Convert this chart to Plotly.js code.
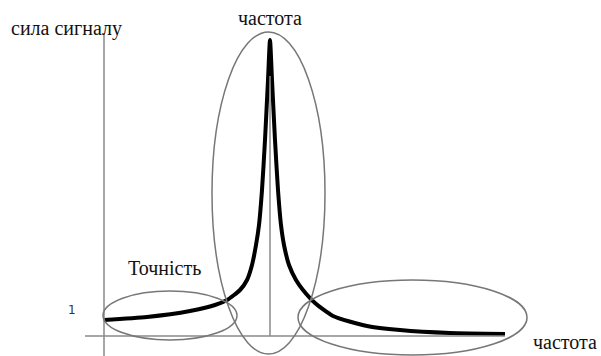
<!DOCTYPE html>
<html>
<head>
<meta charset="utf-8">
<script src="https://cdn.plot.ly/plotly-3.0.1.min.js"></script>
<style>html,body{margin:0;padding:0;background:#fff;}#chart{width:601px;height:356px;}</style>
</head>
<body>
<div id="chart"></div>
<script>
// frequency (relative units, origin at the axes crossing) and signal strength
const frequency = [0, 43, 86, 111, 123, 136, 143, 148, 152, 155, 158, 161, 164, 166, 168, 171, 174, 177, 180, 185, 192, 199, 211, 229, 263, 296, 346, 401];
const signal    = [16, 19, 25, 31, 36, 46, 56, 71, 91, 111, 146, 196, 256, 296, 256, 196, 146, 111, 91, 71, 56, 46, 33, 20, 10, 6, 3, 2];

const labels = {
  yTitle: 'сила сигналу',
  topFreq: 'частота',
  accuracy: 'Точність',
  one: '1',
  xTitle: 'частота'
};

const gray = '#8a8a8a';
const textFont = {family: 'Liberation Serif, Times New Roman, serif', size: 20, color: '#111'};

const trace = {
  x: frequency, y: signal, mode: 'lines', type: 'scatter',
  line: {color: '#000', width: 4, shape: 'spline', smoothing: 0.6},
  hoverinfo: 'skip'
};

const layout = {
  width: 601, height: 356,
  margin: {l: 0, r: 0, t: 0, b: 0},
  paper_bgcolor: '#fff', plot_bgcolor: '#fff',
  showlegend: false,
  xaxis: {range: [-104, 497], visible: false, fixedrange: true},
  yaxis: {range: [-20, 336], visible: false, fixedrange: true},
  shapes: [
    {type: 'line', x0: 0, x1: 0, y0: -20, y1: 303, line: {color: gray, width: 1.5}},
    {type: 'line', x0: -19, x1: 401, y0: 0, y1: 0, line: {color: gray, width: 1.5}},
    {type: 'line', x0: 166, x1: 166, y0: 0, y1: 260, line: {color: gray, width: 1.5}},
    {type: 'circle', x0: 108, x1: 221, y0: -18, y1: 304, line: {color: '#777', width: 1.5}},
    {type: 'circle', x0: -1, x1: 133, y0: -4, y1: 45, line: {color: '#777', width: 1.5}},
    {type: 'circle', x0: 194, x1: 423, y0: -19, y1: 56, line: {color: '#777', width: 1.5}}
  ],
  annotations: [
    {text: labels.yTitle, x: -95, y: 308, xanchor: 'left', yanchor: 'middle', showarrow: false, font: textFont},
    {text: labels.topFreq, x: 166, y: 318, xanchor: 'center', yanchor: 'middle', showarrow: false, font: textFont},
    {text: labels.accuracy, x: 22, y: 68, xanchor: 'left', yanchor: 'middle', showarrow: false, font: textFont},
    {text: labels.one, x: -32, y: 26, xanchor: 'center', yanchor: 'middle', showarrow: false,
     font: {family: 'DejaVu Sans, sans-serif', size: 12, color: '#333'}},
    {text: labels.xTitle, x: 495, y: -6, xanchor: 'right', yanchor: 'middle', showarrow: false, font: textFont}
  ]
};

Plotly.newPlot('chart', [trace], layout, {displayModeBar: false, staticPlot: true});
</script>
</body>
</html>
